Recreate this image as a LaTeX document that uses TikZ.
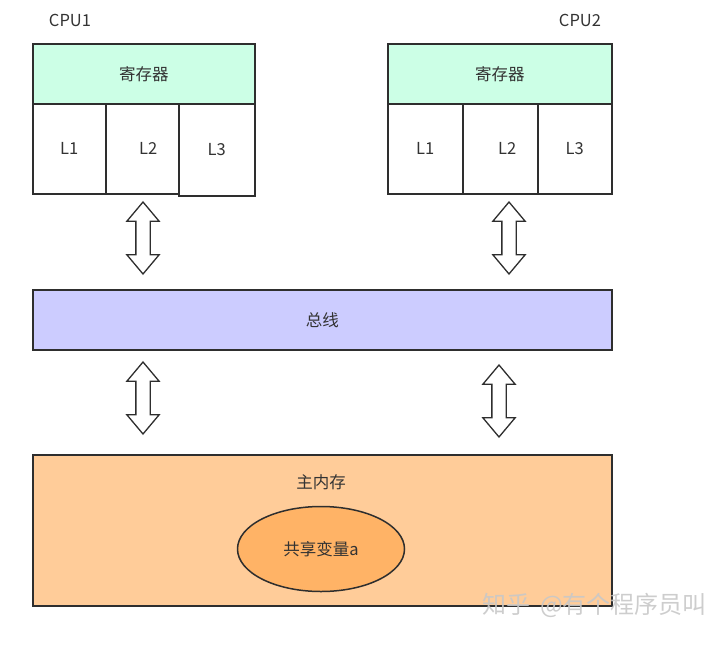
\documentclass[tikz,border=0pt]{standalone}
\usepackage{fontspec}
\setmainfont{Noto Sans CJK SC}
\usetikzlibrary{positioning,shapes.geometric,shapes.arrows}
\definecolor{ink}{HTML}{2E2E2E}
\definecolor{label}{HTML}{333333}
\definecolor{regFill}{HTML}{CCFFE6}
\definecolor{busFill}{HTML}{CCCCFF}
\definecolor{memFill}{HTML}{FFCC99}
\definecolor{varFill}{HTML}{FFB366}
\definecolor{mark}{HTML}{C8C8C8}
\tikzset{
  basebox/.style={draw=ink,line width=1.5pt,inner sep=0pt,anchor=north west,text=label,font=\fontsize{16.5}{19}\selectfont},
  regbox/.style={basebox,fill=regFill,minimum width=222pt,minimum height=60pt},
  cachebox/.style={basebox,fill=white,minimum height=90pt},
  widebox/.style={basebox,minimum width=579pt},
  tag/.style={text=label,font=\fontsize{16.5}{19}\selectfont,inner sep=0pt},
  linkarrow/.style={double arrow,draw=ink,line width=1.3pt,fill=white,rotate=90,
    minimum height=72pt,minimum width=32pt,inner sep=6.5pt,
    double arrow head extend=9pt,double arrow tip angle=80}
}
\begin{document}
\begin{tikzpicture}[x=1pt,y=-1pt]
  \useasboundingbox (0,0) rectangle (714,648);
  % CPU1
  \node[tag] (cpu1) at (70,20) {CPU1};
  \node[regbox] (reg1) at (32,43) {寄存器};
  \node[cachebox,minimum width=73pt] (l11) at (32,103) {L1};
  \node[cachebox,minimum width=73pt] (l12) at (105,103) {\hspace{12pt}L2};
  \node[cachebox,minimum width=76pt,minimum height=92pt] (l13) at (178,103) {L3};
  % CPU2
  \node[tag] (cpu2) at (580,20) {CPU2};
  \node[regbox,minimum width=224pt] (reg2) at (387,43) {寄存器};
  \node[cachebox,minimum width=75pt] (l21) at (387,103) {L1};
  \node[cachebox,minimum width=75pt] (l22) at (462,103) {\hspace{14pt}\raisebox{-5pt}{L2}};
  \node[cachebox,minimum width=74pt] (l23) at (537,103) {L3};
  % bus and memory
  \node[widebox,fill=busFill,minimum height=60pt] (bus) at (32,289) {总线};
  \node[widebox,fill=memFill,minimum height=151pt] (mem) at (32,454) {};
  \node[tag] (memlabel) at (321,482) {主内存};
  \node[ellipse,draw=ink,line width=1.5pt,fill=varFill,minimum width=167pt,minimum height=85pt,
    text=label,font=\fontsize{16.5}{19}\selectfont] (var) at (321,549) {共享变量a};
  % links
  \node[linkarrow] (up1) at (143,238) {};
  \node[linkarrow] (down1) at (143,398) {};
  \node[linkarrow] (up2) at (509,238) {};
  \node[linkarrow] (down2) at (499,401) {};
  % watermark
  \node[anchor=west,text=mark,opacity=0.9,inner sep=0pt,font=\fontsize{24}{27}\selectfont] (wm) at (482,605) {知乎\hspace{10pt}@有个程序员叫};
\end{tikzpicture}
\end{document}
